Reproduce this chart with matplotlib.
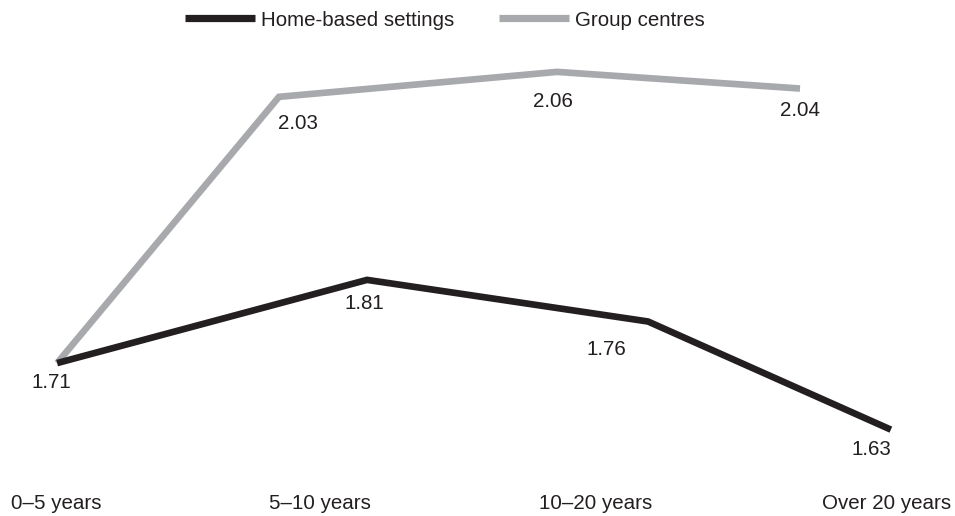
import matplotlib.pyplot as plt

# Données
categories = ["0–5 years", "5–10 years", "10–20 years", "Over 20 years"]
cat_pos = [0, 0.953, 1.949, 3]

home_x = [0.004, 1.123, 2.137, 3.014]
home_vals = [1.71, 1.81, 1.76, 1.63]

group_x = [0.004, 0.805, 1.809, 2.686]
group_vals = [1.71, 2.03, 2.06, 2.04]

black = '#231f20'
grey = '#a7a9ac'

plt.rcParams['font.family'] = ['Liberation Sans', 'DejaVu Sans']

fig = plt.figure(figsize=(9.55, 5.16), dpi=100)
ax = fig.add_axes([0, 0, 1, 1])

ax.plot(group_x, group_vals, color=grey, linewidth=4.8,
        solid_capstyle='butt', solid_joinstyle='miter', label='Group centres')
ax.plot(home_x, home_vals, color=black, linewidth=4.8,
        solid_capstyle='butt', solid_joinstyle='miter', label='Home-based settings')

# étiquettes des valeurs (décalage en points)
home_off = [(-4, -14), (-2, -17), (-30, -20), (-14, -14)]
group_off = [(-4, -14), (14, -19), (-3, -21), (0, -16)]
for x, v, off in zip(home_x, home_vals, home_off):
    ax.annotate(f"{v:.2f}", (x, v), xytext=off, textcoords='offset points',
                ha='center', va='center', fontsize=14.8, color=black)
for x, v, off in zip(group_x[1:], group_vals[1:], group_off[1:]):
    ax.annotate(f"{v:.2f}", (x, v), xytext=off, textcoords='offset points',
                ha='center', va='center', fontsize=14.8, color=black)

# catégories en bas
for p, c in zip(cat_pos, categories):
    ax.text(p, 0.025, c, transform=ax.get_xaxis_transform(),
            ha='center', va='center', fontsize=14.8, color=black)

ax.set_xlim(-0.2022, 3.2455)
ax.set_ylim(1.5262, 2.1464)
ax.axis('off')

h, l = ax.get_legend_handles_labels()
leg = ax.legend(h[::-1], l[::-1], loc='center', bbox_to_anchor=(0.466, 0.961),
                ncol=2, frameon=False, fontsize=14.8, handlelength=3.4,
                handletextpad=0.3, columnspacing=2.2)
for line in leg.get_lines():
    line.set_linewidth(5.2)
for t in leg.get_texts():
    t.set_color(black)

plt.savefig('out.png', dpi=100)
